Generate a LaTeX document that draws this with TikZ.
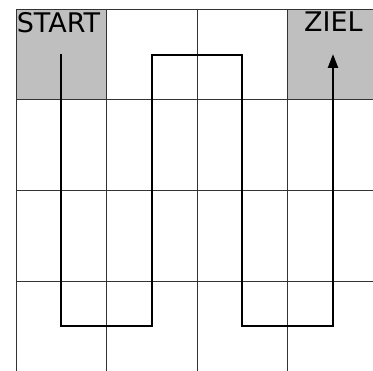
\documentclass[tikz,border=0pt]{standalone}
\usepackage{fontspec}
\setmainfont{DejaVu Sans}
\usetikzlibrary{arrows.meta}
\begin{document}
\begin{tikzpicture}[x=1pt,y=-1pt,
  gridline/.style={draw=black!80,line width=0.8pt},
  goal/.style={fill=black!25},
  route/.style={draw=black,line width=2.4pt,line join=miter},
  label/.style={font=\fontsize{27}{29}\selectfont,inner sep=0pt,anchor=north}]
\useasboundingbox (0,0) rectangle (373,371);
\clip (0,0) rectangle (373,371);
\fill[goal] (16,9) rectangle (106.5,99.5);
\fill[goal] (287.5,9) rectangle (378,99.5);
\foreach \x in {16,106.5,197,287.5,378} \draw[gridline] (\x,9) -- (\x,372);
\foreach \y in {9,99.5,190,281,372} \draw[gridline] (16,\y) -- (378,\y);
\node[label] (start) at (58.5,12) {START};
\node[label] (ziel) at (333.5,12) {ZIEL};
\coordinate (p0) at (61,54);
\coordinate (p1) at (61,326);
\coordinate (p2) at (152,326);
\coordinate (p3) at (152,55);
\coordinate (p4) at (242,55);
\coordinate (p5) at (242,326);
\coordinate (p6) at (333,326);
\coordinate (p7) at (333,54);
\draw[route,-{Triangle[length=14pt,width=10pt]}] (p0) -- (p1) -- (p2) -- (p3) -- (p4) -- (p5) -- (p6) -- (p7);
\end{tikzpicture}
\end{document}
